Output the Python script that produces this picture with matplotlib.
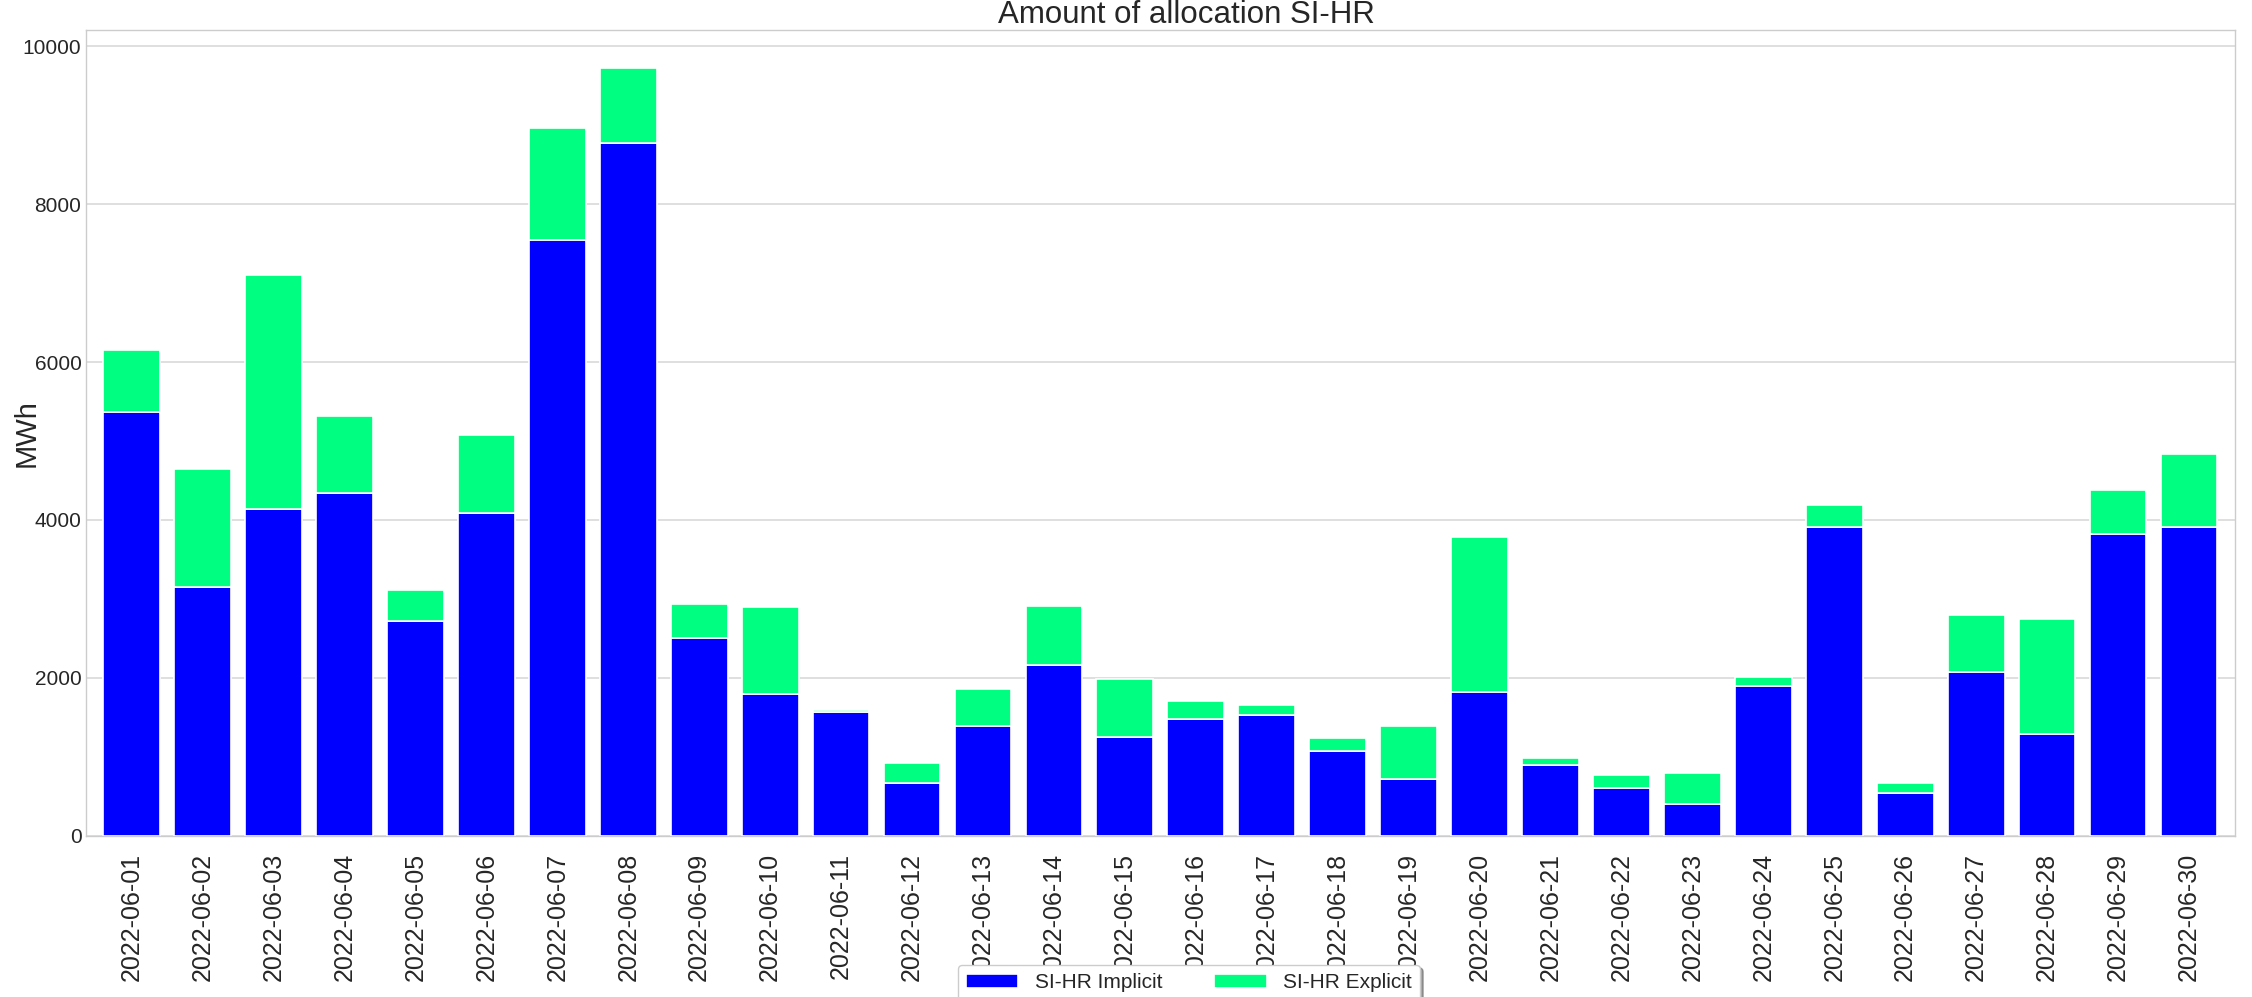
import numpy as np
import matplotlib
matplotlib.use("Agg")
import matplotlib.pyplot as plt

# Daily allocation (MWh), June 2022
dates = [f"2022-06-{d:02d}" for d in range(1, 31)]
implicit = [5366, 3150, 4142, 4341, 2726, 4089, 7548, 8770, 2509, 1796,
            1566, 669, 1386, 2168, 1258, 1475, 1537, 1081, 717, 1825,
            895, 609, 406, 1899, 3908, 546, 2077, 1290, 3826, 3908]
explicit = [782, 1492, 2957, 970, 388, 993, 1412, 948, 433, 1106,
            35, 261, 470, 742, 733, 234, 119, 159, 678, 1954,
            86, 169, 386, 111, 285, 121, 725, 1459, 556, 928]
series_names = ["SI-HR Implicit", "SI-HR Explicit"]

plt.style.use("seaborn-v0_8-whitegrid")
plt.rcParams["font.family"] = ["Liberation Sans", "DejaVu Sans"]

fig = plt.figure(figsize=(22.52, 9.97), dpi=100)
ax = fig.add_axes([0.038, 0.1615, 0.9545, 0.8085])

cmap = plt.get_cmap("winter")
colors = [cmap(0.0), cmap(1.0)]

x = np.arange(len(dates))
ax.bar(x, implicit, width=0.8, color=colors[0], edgecolor="white",
       linewidth=1.2, label=series_names[0], zorder=2)
ax.bar(x, explicit, width=0.8, bottom=implicit, color=colors[1],
       edgecolor="white", linewidth=1.2, label=series_names[1], zorder=2)

ax.set_xlim(-0.65, len(dates) - 1 + 0.65)
ax.set_xticks(x)
ax.set_xticklabels(dates, rotation=90, fontsize=18)
ax.tick_params(axis="x", pad=12)
ax.tick_params(axis="y", labelsize=15, pad=3)
ax.grid(axis="x", visible=False)
ax.grid(axis="y", color="0.85", linewidth=1.2)
ax.set_axisbelow(True)
for s in ax.spines.values():
    s.set_color("0.8")
    s.set_visible(True)

ax.set_title("Amount of allocation SI-HR", fontsize=22.5, pad=3, x=0.512)
ax.set_ylabel("MWh", fontsize=21)
ax.yaxis.set_label_coords(-0.021, 0.5)

fig.legend(loc="upper center", bbox_to_anchor=(0.528, 0.032), ncol=2,
           fontsize=15, frameon=True, shadow=True, handlelength=2.5,
           columnspacing=2.5, borderaxespad=0)

fig.savefig("out.png", dpi=100)
